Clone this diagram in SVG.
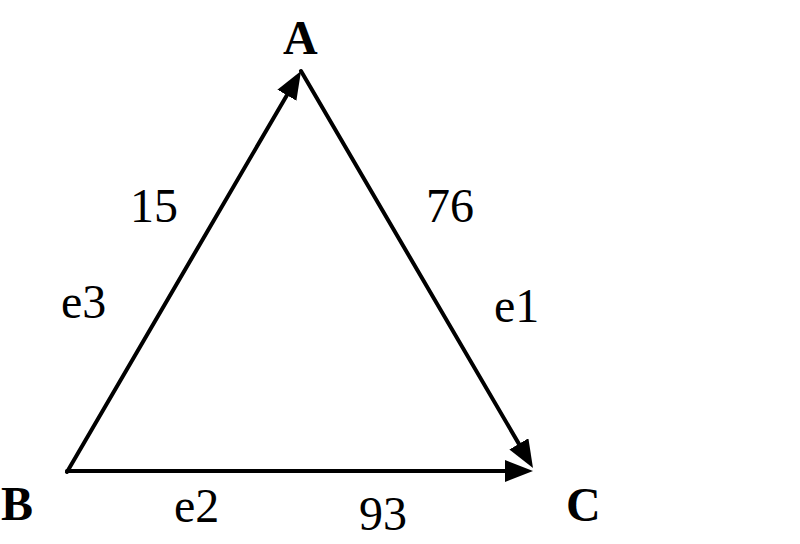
<svg xmlns="http://www.w3.org/2000/svg" width="800" height="544" viewBox="0 0 800 544">
<style>
.edge{stroke:#000;stroke-width:4;fill:none;stroke-linecap:round}
.lbl{font-family:"Liberation Serif","Times New Roman",serif;font-size:48px;fill:#000}
.node{font-family:"Liberation Serif","Times New Roman",serif;font-size:48px;font-weight:bold;fill:#000}
</style>
<defs>
<marker id="arr" markerUnits="userSpaceOnUse" markerWidth="30" markerHeight="24" refX="18" refY="11" orient="auto">
<path d="M0,0 L28,11 L0,22 z" fill="#000"/>
</marker>
</defs>
<rect width="800" height="544" fill="#fff"/>
<g id="connectors">
<line id="e3" class="edge" x1="67" y1="472" x2="295.96" y2="79.64" marker-end="url(#arr)"/>
<line id="e1" class="edge" x1="301" y1="71" x2="527.95" y2="459.37" marker-end="url(#arr)"/>
<line id="e2" class="edge" x1="67" y1="471" x2="523" y2="471" marker-end="url(#arr)"/>
</g>
<g id="edge-labels">
<text class="lbl" x="130" y="222">15</text>
<text class="lbl" x="61" y="318">e3</text>
<text class="lbl" x="426" y="222">76</text>
<text class="lbl" x="494" y="322">e1</text>
<text class="lbl" x="174" y="522">e2</text>
<text class="lbl" x="359" y="530">93</text>
</g>
<g id="node-A"><text class="node" x="283" y="54">A</text></g>
<g id="node-B"><text class="node" x="1" y="520">B</text></g>
<g id="node-C"><text class="node" x="566" y="521">C</text></g>
</svg>
